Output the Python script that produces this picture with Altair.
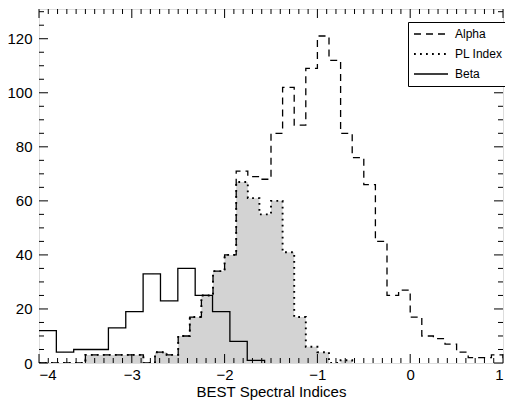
import altair as alt
import pandas as pd
import numpy as np

# ---- data ----
SERIES = ["Alpha", "PL Index", "Beta"]

# Alpha and PL Index histograms: bins of 0.125 starting at -4
FINE_START = -4.0
FINE_WIDTH = 0.125
pl_counts = [0, 0, 0, 0, 3, 3, 3, 3, 3, 0, 4, 3, 10, 17, 25, 34, 40,
             67, 61, 55, 60, 41, 17, 6, 4, 0, 1]
alpha_counts = [0, 0, 0, 0, 3, 3, 3, 3, 3, 0, 4, 3, 10, 17, 25, 34, 40,
                71, 69, 68, 85, 102, 88, 109, 121, 112, 85, 76, 66,
                45, 25, 27, 17, 10, 9, 7, 4, 2, 2, 3]

# Beta histogram: wider bins starting at -4
BETA_START = -4.0
BETA_WIDTH = 0.187
beta_counts = [12, 4, 5, 5, 13, 19, 33, 23, 35, 25, 19, 8, 1]

X_MAJOR = [-4, -3, -2, -1, 0, 1]
X_MINOR = [float(v) for v in np.round(np.arange(-3.9, 1.0, 0.1), 2) if abs(v - round(v)) > 1e-6]
Y_MAJOR = [0, 20, 40, 60, 80, 100, 120]
Y_MINOR = [v for v in range(5, 131, 5) if v % 20 != 0]


def steps(name, start, width, counts):
    rows = []
    for i, c in enumerate(counts):
        rows.append({"series": name, "x": round(start + i * width, 4), "y": c})
    rows.append({"series": name, "x": round(start + len(counts) * width, 4), "y": 0})
    return rows


alpha_df = pd.DataFrame(steps("Alpha", FINE_START, FINE_WIDTH, alpha_counts))
pl_df = pd.DataFrame(steps("PL Index", FINE_START, FINE_WIDTH, pl_counts))
beta_df = pd.DataFrame(steps("Beta", BETA_START, BETA_WIDTH, beta_counts))
lines_df = pd.concat([alpha_df, pl_df, beta_df], ignore_index=True)

W, H = 464, 354
FONT = "Liberation Sans"

xs = alt.Scale(domain=[-4, 1], nice=False, zero=False)
ys = alt.Scale(domain=[0, 131], nice=False, zero=True)

x_axis = alt.Axis(values=X_MAJOR, ticks=False, domain=False, grid=False,
                  labelFont=FONT, labelFontSize=15, labelColor="black",
                  labelPadding=4, title="BEST Spectral Indices",
                  titleFont=FONT, titleFontSize=15, titleFontWeight="normal",
                  titleColor="black", titlePadding=2, format="d")
y_axis = alt.Axis(values=Y_MAJOR, ticks=False, domain=False, grid=False,
                  labelFont=FONT, labelFontSize=15, labelColor="black",
                  labelPadding=7, title=None)

fill = alt.Chart(pl_df).mark_area(interpolate="step-after", color="#d3d3d3", clip=True).encode(
    x=alt.X("x:Q", scale=xs, axis=x_axis),
    y=alt.Y("y:Q", scale=ys, axis=y_axis),
)

lines = alt.Chart(lines_df).mark_line(interpolate="step-after", color="black",
                                      clip=True).encode(
    x=alt.X("x:Q", scale=xs, axis=x_axis),
    y=alt.Y("y:Q", scale=ys, axis=y_axis),
    strokeDash=alt.StrokeDash(
        "series:N",
        scale=alt.Scale(domain=SERIES, range=[[7, 5], [1.8, 4.2], [1, 0]]),
        legend=alt.Legend(title=None, orient="none", legendX=369, legendY=13,
                          symbolType="stroke", symbolSize=1156, symbolStrokeWidth=1.5,
                          symbolStrokeColor="black", symbolOffset=2,
                          labelFont=FONT, labelFontSize=12, labelColor="black",
                          labelOffset=6, clipHeight=18, rowPadding=2, padding=3,
                          strokeColor="black", fillColor="white", cornerRadius=0),
    ),
    strokeWidth=alt.StrokeWidth(
        "series:N",
        scale=alt.Scale(type="ordinal", domain=SERIES, range=[1.3, 1.9, 1.3]),
        legend=None,
    ),
    detail="series:N",
)


def tick_layer(values, channel, length, side):
    df = pd.DataFrame({"x": values}) if channel == "x" else pd.DataFrame({"y": values})
    base = alt.Chart(df).mark_rule(color="black", strokeWidth=1)
    if channel == "x":
        if side == "bottom":
            return base.encode(x=alt.X("x:Q", scale=xs, axis=x_axis),
                               y=alt.value(H), y2=alt.value(H - length))
        return base.encode(x=alt.X("x:Q", scale=xs, axis=x_axis),
                           y=alt.value(0), y2=alt.value(length))
    if side == "left":
        return base.encode(y=alt.Y("y:Q", scale=ys, axis=y_axis),
                           x=alt.value(0), x2=alt.value(length))
    return base.encode(y=alt.Y("y:Q", scale=ys, axis=y_axis),
                       x=alt.value(W), x2=alt.value(W - length))


ticks = [
    tick_layer(X_MAJOR, "x", 9, "bottom"), tick_layer(X_MINOR, "x", 5, "bottom"),
    tick_layer(X_MAJOR, "x", 9, "top"), tick_layer(X_MINOR, "x", 5, "top"),
    tick_layer(Y_MAJOR, "y", 9, "left"), tick_layer(Y_MINOR, "y", 5, "left"),
    tick_layer(Y_MAJOR, "y", 9, "right"), tick_layer(Y_MINOR, "y", 5, "right"),
]

chart = alt.layer(fill, lines, *ticks).properties(
    width=W, height=H,
    autosize=alt.AutoSizeParams(type="none"),
    padding={"left": 31, "top": 1, "right": 2, "bottom": 42},
).configure_view(stroke="black", strokeWidth=1.2).configure(background="white")

chart.save("out.html", embed_options={"renderer": "svg", "actions": False})
